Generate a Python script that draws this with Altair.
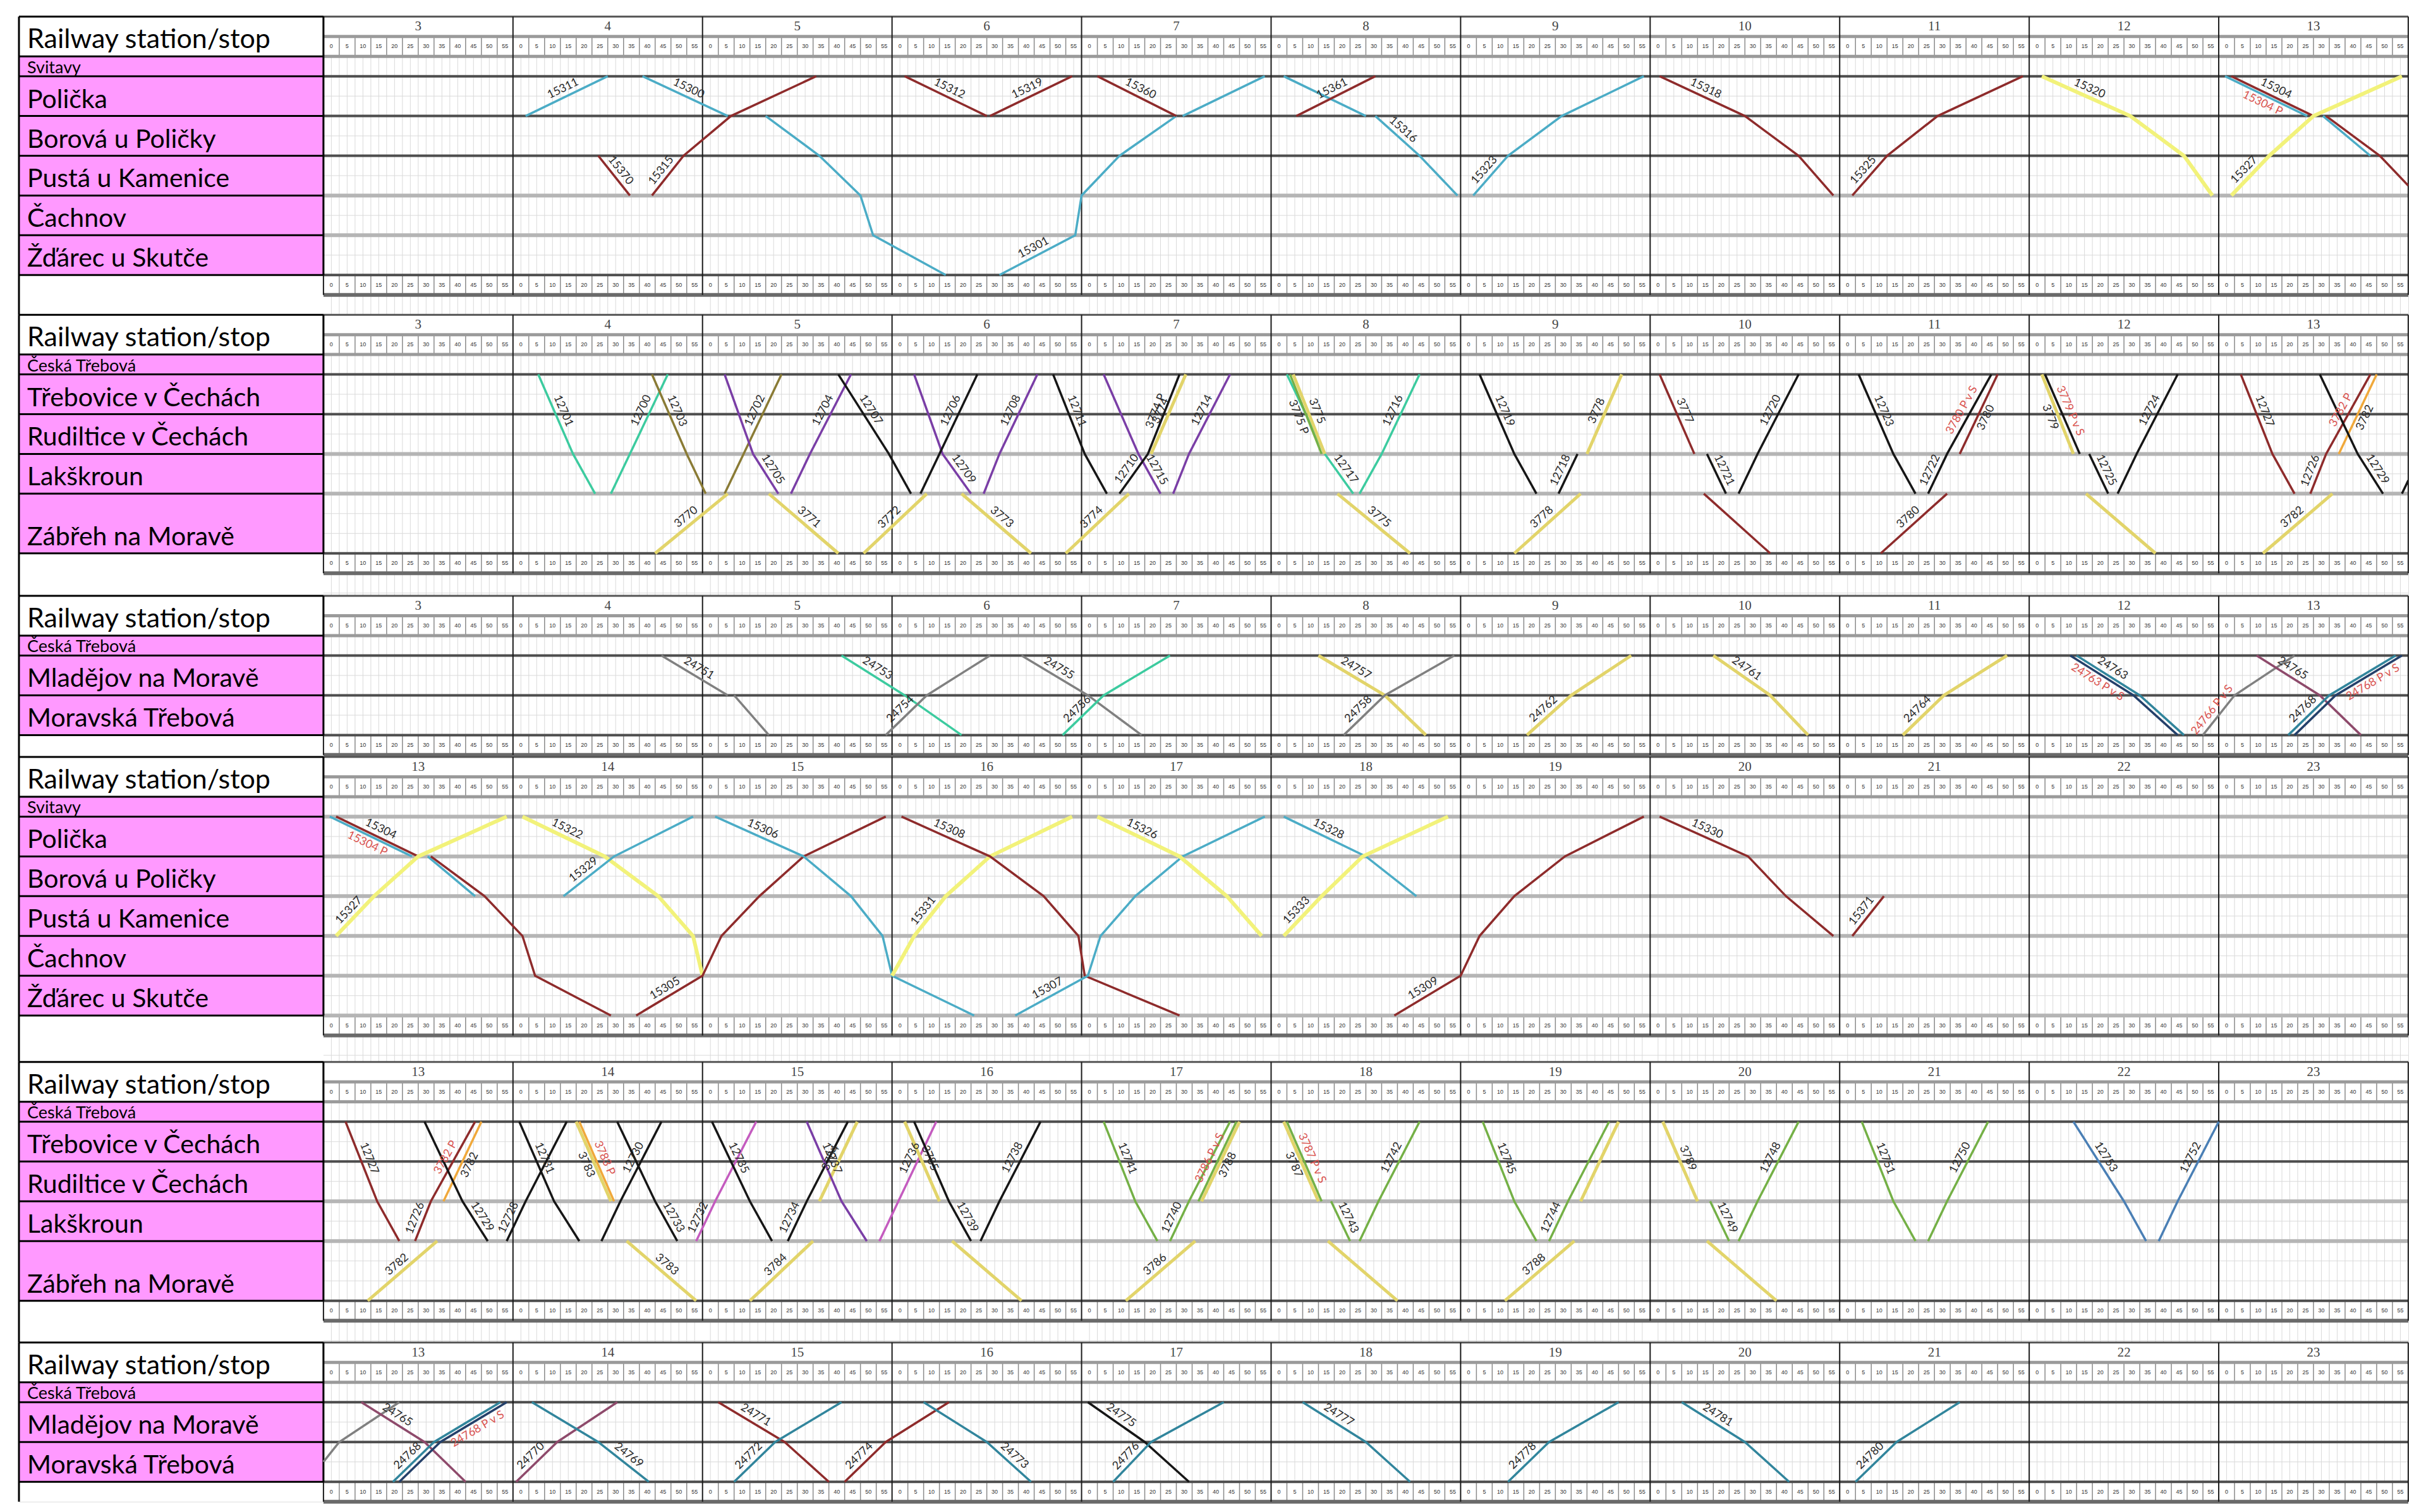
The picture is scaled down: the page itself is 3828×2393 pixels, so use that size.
import math
import altair as alt
import pandas as pd

# ---------------------------------------------------------------- layout constants
PXM = 5.0        # pixels per minute
PXU = 63.0       # pixels per station row
LABEL_W = 482    # width of the station-name column
HOUR_COUNT = 11

# ---------------------------------------------------------------- stations
LINE_A_NAMES = ["Svitavy", "Polička", "Borová u Poličky", "Pustá u Kamenice", "Čachnov", "Žďárec u Skutče"]
LINE_A_CODES = ["S", "P", "B", "U", "C", "Z"]
LINE_A_POS = [0, 1, 2, 3, 4, 5]

LINE_B_NAMES = ["Česká Třebová", "Třebovice v Čechách", "Rudiltice v Čechách", "Lakškroun", "Zábřeh na Moravě"]
LINE_B_CODES = ["CT", "T", "R", "L", "ZB"]
LINE_B_POS = [0, 1, 2, 3, 4.5]

LINE_C_NAMES = ["Česká Třebová", "Mladějov na Moravě", "Moravská Třebová"]
LINE_C_CODES = ["CT", "M", "MT"]
LINE_C_POS = [0, 1, 2]

PANEL_START_HOURS = [3, 3, 3, 13, 13, 13]

# ---------------------------------------------------------------- trains
# (number, colour, "station time, ... | next run ...", [(label, run, segment, red?, below?)])
TRAINS_A = [
    ("15311", "teal", "P 4:04, S 4:30", [("15311", 0, 0, 0, 0)]),
    ("15300", "teal", "S 4:41, P 5:08 | P 5:20, B 5:37, U 5:50, C 5:54, Z 6:17", [("15300", 0, 0, 0, 0)]),
    ("15370", "maroon", "B 4:27, U 4:37", [("15370", 0, 0, 0, 0)]),
    ("15315", "maroon", "U 4:44, B 4:54, P 5:09, S 5:36", [("15315", 0, 0, 0, 0)]),
    ("15312", "maroon", "S 6:04, P 6:30", [("15312", 0, 0, 0, 0)]),
    ("15319", "maroon", "P 6:31, S 6:57", [("15319", 0, 0, 0, 0)]),
    ("15301", "teal", "Z 6:34, C 6:58, U 7:00, B 7:12, P 7:30 | P 7:32, S 7:58", [("15301", 0, 0, 0, 0)]),
    ("15360", "maroon", "S 7:05, P 7:30", [("15360", 0, 0, 0, 0)]),
    ("15316", "teal", "S 8:04, P 8:30 | P 8:33, B 8:47, U 8:59", [("15316", 1, 0, 0, 0)]),
    ("15361", "maroon", "P 8:08, S 8:33", [("15361", 0, 0, 0, 0)]),
    ("15323", "teal", "U 9:04, B 9:15, P 9:32, S 9:58", [("15323", 0, 0, 0, 0)]),
    ("15318", "maroon", "S 10:03, P 10:30, B 10:47, U 10:58", [("15318", 0, 0, 0, 0)]),
    ("15325", "maroon", "U 11:04, B 11:15, P 11:31, S 11:58", [("15325", 0, 0, 0, 0)]),
    ("15320", "yellow", "S 12:04, P 12:32, B 12:49, U 12:58", [("15320", 0, 0, 0, 0)]),
    ("15304 P", "teal", "S 13:02, P 13:28 | P 13:33, B 13:48", [("15304 P", 0, 0, 1, 1)]),
    ("15304", "maroon", "S 13:04, P 13:30 | P 13:34, B 13:51, U 14:03, C 14:07, Z 14:31", [("15304", 0, 0, 0, 0)]),
    ("15327", "yellow", "U 13:04, B 13:16, P 13:30, S 13:58", [("15327", 0, 0, 0, 0)]),
    ("15322", "yellow", "S 14:03, P 14:29, B 14:46, U 14:57, C 15:00", [("15322", 0, 0, 0, 0)]),
    ("15329", "teal", "B 14:16, P 14:32, S 14:57", [("15329", 0, 0, 0, 0)]),
    ("15305", "maroon", "Z 14:39, C 15:00, U 15:06, B 15:18, P 15:32, S 15:58", [("15305", 0, 0, 0, 0)]),
    ("15306", "teal", "S 15:04, P 15:32, B 15:47, U 15:57, C 16:00, Z 16:26", [("15306", 0, 0, 0, 0)]),
    ("15331", "yellow", "C 16:00, U 16:07, B 16:17, P 16:31, S 16:57", [("15331", 0, 1, 0, 0)]),
    ("15308", "maroon", "S 16:03, P 16:31, B 16:48, U 16:59, C 17:01, Z 17:31", [("15308", 0, 0, 0, 0)]),
    ("15307", "teal", "Z 16:39, C 17:02, U 17:06, B 17:17, P 17:32, S 17:58", [("15307", 0, 0, 0, 0)]),
    ("15326", "yellow", "S 17:05, P 17:31, B 17:46, U 17:57", [("15326", 0, 0, 0, 0)]),
    ("15328", "teal", "S 18:04, P 18:30, B 18:46", [("15328", 0, 0, 0, 0)]),
    ("15333", "yellow", "U 18:04, B 18:16, P 18:29, S 18:56", [("15333", 0, 0, 0, 0)]),
    ("15309", "maroon", "Z 18:39, C 19:00, U 19:06, B 19:17, P 19:33, S 19:58", [("15309", 0, 0, 0, 0)]),
    ("15330", "maroon", "S 20:03, P 20:31, B 20:43, U 20:58", [("15330", 0, 0, 0, 0)]),
    ("15371", "maroon", "U 21:04, B 21:14", [("15371", 0, 0, 0, 0)]),
]

TRAINS_B = [
    ("12701", "mint", "CT 4:08, R 4:19, L 4:26", [("12701", 0, 0, 0, 0)]),
    ("12700", "mint", "L 4:31, R 4:37, CT 4:49", [("12700", 0, 1, 0, 0)]),
    ("12703", "olive", "CT 4:44, R 4:55, L 5:01", [("12703", 0, 0, 0, 0)]),
    ("12702", "olive", "L 5:07, R 5:13, CT 5:25", [("12702", 0, 1, 0, 0)]),
    ("3770", "gold", "ZB 4:45, L 5:08", [("3770", 0, 0, 0, 0)]),
    ("12705", "purple", "CT 5:07, R 5:16, L 5:24", [("12705", 0, 1, 0, 0)]),
    ("12704", "purple", "L 5:28, R 5:34, CT 5:47", [("12704", 0, 1, 0, 0)]),
    ("3771", "gold", "L 5:21, ZB 5:43", [("3771", 0, 0, 0, 0)]),
    ("12707", "black", "CT 5:43, R 5:59, L 6:06", [("12707", 0, 0, 0, 0)]),
    ("3772", "gold", "ZB 5:51, L 6:11", [("3772", 0, 0, 0, 0)]),
    ("12709", "purple", "CT 6:07, R 6:16, L 6:25", [("12709", 0, 1, 0, 0)]),
    ("12706", "black", "L 6:09, R 6:15, CT 6:27", [("12706", 0, 1, 0, 0)]),
    ("12708", "purple", "L 6:29, R 6:34, CT 6:46", [("12708", 0, 1, 0, 0)]),
    ("3773", "gold", "L 6:22, ZB 6:44", [("3773", 0, 0, 0, 0)]),
    ("12711", "black", "CT 6:51, R 7:01, L 7:08", [("12711", 0, 0, 0, 0)]),
    ("3774", "gold", "ZB 6:55, L 7:15 | R 7:22, CT 7:33", [("3774", 0, 0, 0, 0), ("3774", 1, 0, 0, 0)]),
    ("12715", "purple", "CT 7:07, R 7:18, L 7:25", [("12715", 0, 1, 0, 0)]),
    ("12710", "black", "L 7:12, R 7:21, CT 7:31", [("12710", 0, 0, 0, 0), ("3774 P", 0, 1, 0, 0)]),
    ("12714", "purple", "L 7:29, R 7:34, CT 7:47", [("12714", 0, 1, 0, 0)]),
    ("12717", "mint", "CT 8:05, R 8:17, L 8:26", [("12717", 0, 1, 0, 0)]),
    ("3775 P", "green", "CT 8:06, R 8:16", [("3775 P", 0, 0, 0, 1)]),
    ("3775", "gold", "CT 8:07, R 8:17 | L 8:21, ZB 8:44", [("3775", 0, 0, 0, 0), ("3775", 1, 0, 0, 0)]),
    ("12716", "mint", "L 8:28, R 8:35, CT 8:47", [("12716", 0, 1, 0, 0)]),
    ("12719", "black", "CT 9:06, R 9:17, L 9:24", [("12719", 0, 0, 0, 0)]),
    ("12718", "black", "L 9:31, R 9:37", [("12718", 0, 0, 0, 0)]),
    ("3778", "gold", "ZB 9:17, L 9:38 | R 9:40, CT 9:51", [("3778", 0, 0, 0, 0), ("3778", 1, 0, 0, 0)]),
    ("3777", "maroon", "CT 10:03, R 10:14 | L 10:17, ZB 10:38", [("3777", 0, 0, 0, 0)]),
    ("12721", "black", "R 10:18, L 10:24", [("12721", 0, 0, 0, 0)]),
    ("12720", "black", "L 10:28, R 10:34, CT 10:47", [("12720", 0, 1, 0, 0)]),
    ("12723", "black", "CT 11:06, R 11:17, L 11:24", [("12723", 0, 0, 0, 0)]),
    ("12722", "black", "L 11:28, R 11:34, CT 11:48", [("12722", 0, 0, 0, 0), ("3780 P v S", 0, 1, 1, 0)]),
    ("3780", "maroon", "ZB 11:13, L 11:34 | R 11:38, CT 11:50", [("3780", 0, 0, 0, 0), ("3780", 1, 0, 0, 1)]),
    ("3779", "gold", "CT 12:04, R 12:14 | L 12:18, ZB 12:40", [("3779", 0, 0, 0, 1)]),
    ("3779 P v S", "black", "CT 12:05, R 12:16", [("3779 P v S", 0, 0, 1, 0)]),
    ("12725", "black", "R 12:19, L 12:25", [("12725", 0, 0, 0, 0)]),
    ("12724", "black", "L 12:28, R 12:34, CT 12:47", [("12724", 0, 1, 0, 0)]),
    ("12727", "maroon", "CT 13:07, R 13:17, L 13:24", [("12727", 0, 0, 0, 0)]),
    ("12726", "maroon", "L 13:29, R 13:34, CT 13:48", [("12726", 0, 0, 0, 0), ("3782 P", 0, 1, 1, 0)]),
    ("3782", "gold", "ZB 13:14, L 13:36", [("3782", 0, 0, 0, 0)]),
    ("3782", "orange", "R 13:38, CT 13:50", [("3782", 0, 0, 0, 1)]),
    ("12729", "black", "CT 13:32, R 13:44, L 13:52", [("12729", 0, 1, 0, 0)]),
    ("12728", "black", "L 13:58, R 14:04, CT 14:17", [("12728", 0, 0, 0, 0)]),
    ("12731", "black", "CT 14:02, R 14:13, L 14:21", [("12731", 0, 0, 0, 0)]),
    ("3783", "gold", "CT 14:20, R 14:31 | L 14:36, ZB 14:58", [("3783", 0, 0, 0, 1), ("3783", 1, 0, 0, 0)]),
    ("3783 P", "orange", "CT 14:21, R 14:32", [("3783 P", 0, 0, 1, 0)]),
    ("12730", "black", "L 14:28, R 14:34, CT 14:47", [("12730", 0, 1, 0, 0)]),
    ("12733", "black", "CT 14:33, R 14:45, L 14:52", [("12733", 0, 1, 0, 0)]),
    ("12732", "pink", "L 14:58, R 15:04, CT 15:17", [("12732", 0, 0, 0, 0)]),
    ("12735", "black", "CT 15:03, R 15:15, L 15:22", [("12735", 0, 0, 0, 0)]),
    ("3784", "gold", "ZB 15:15, L 15:35 | R 15:37, CT 15:49", [("3784", 0, 0, 0, 0), ("3784", 1, 0, 0, 0)]),
    ("12734", "black", "L 15:27, R 15:33, CT 15:46", [("12734", 0, 0, 0, 0)]),
    ("12737", "purple", "CT 15:33, R 15:44, L 15:52", [("12737", 0, 0, 0, 0)]),
    ("12736", "pink", "L 15:56, R 16:02, CT 16:14", [("12736", 0, 1, 0, 0)]),
    ("3785", "gold", "CT 16:04, R 16:15 | L 16:19, ZB 16:41", [("3785", 0, 0, 0, 0)]),
    ("12739", "black", "CT 16:07, R 16:18, L 16:25", [("12739", 0, 1, 0, 0)]),
    ("12738", "black", "L 16:28, R 16:34, CT 16:47", [("12738", 0, 1, 0, 0)]),
    ("12741", "green", "CT 17:07, R 17:17, L 17:24", [("12741", 0, 0, 0, 0)]),
    ("12740", "green", "L 17:28, R 17:34, CT 17:47", [("12740", 0, 0, 0, 0)]),
    ("3786", "gold", "ZB 17:14, L 17:36 | R 17:38, CT 17:50", [("3786", 0, 0, 0, 0), ("3788", 1, 0, 0, 1)]),
    ("3786 P v S", "green", "R 17:37, CT 17:49", [("3786 P v S", 0, 0, 1, 0)]),
    ("3787", "gold", "CT 18:04, R 18:15 | L 18:18, ZB 18:40", [("3787", 0, 0, 0, 1)]),
    ("3787 P v S", "green", "CT 18:05, R 18:16", [("3787 P v S", 0, 0, 1, 0)]),
    ("12743", "green", "R 18:19, L 18:25", [("12743", 0, 0, 0, 0)]),
    ("12742", "green", "L 18:28, R 18:34, CT 18:47", [("12742", 0, 1, 0, 0)]),
    ("12745", "green", "CT 19:07, R 19:17, L 19:24", [("12745", 0, 0, 0, 0)]),
    ("12744", "green", "L 19:28, R 19:34, CT 19:47", [("12744", 0, 0, 0, 0)]),
    ("3788", "gold", "ZB 19:14, L 19:36 | R 19:38, CT 19:50", [("3788", 0, 0, 0, 0)]),
    ("3789", "gold", "CT 20:04, R 20:15 | L 20:18, ZB 20:40", [("3789", 0, 0, 0, 0)]),
    ("12749", "green", "R 20:19, L 20:25", [("12749", 0, 0, 0, 0)]),
    ("12748", "green", "L 20:28, R 20:34, CT 20:47", [("12748", 0, 1, 0, 0)]),
    ("12751", "green", "CT 21:07, R 21:17, L 21:24", [("12751", 0, 0, 0, 0)]),
    ("12750", "green", "L 21:28, R 21:34, CT 21:47", [("12750", 0, 1, 0, 0)]),
    ("12753", "blue", "CT 22:14, R 22:30, L 22:37", [("12753", 0, 0, 0, 0)]),
    ("12752", "blue", "L 22:41, R 22:47, CT 23:00", [("12752", 0, 1, 0, 0)]),
]

TRAINS_C = [
    ("24751", "gray", "CT 4:47, M 5:08 | M 5:10, MT 5:21", [("24751", 0, 0, 0, 0)]),
    ("24753", "mint", "CT 5:44, M 6:04, MT 6:22", [("24753", 0, 0, 0, 0)]),
    ("24754", "gray", "MT 5:58, M 6:11, CT 6:31", [("24754", 0, 0, 0, 0)]),
    ("24755", "gray", "CT 6:41, M 7:02, MT 7:19", [("24755", 0, 0, 0, 0)]),
    ("24756", "mint", "MT 6:54, M 7:07, CT 7:28", [("24756", 0, 0, 0, 0)]),
    ("24757", "gold", "CT 8:15, M 8:36, MT 8:49", [("24757", 0, 0, 0, 0)]),
    ("24758", "gray", "MT 8:23, M 8:36, CT 8:58", [("24758", 0, 0, 0, 0)]),
    ("24762", "gold", "MT 9:21, M 9:35, CT 9:54", [("24762", 0, 0, 0, 0)]),
    ("24761", "gold", "CT 10:20, M 10:38, MT 10:50", [("24761", 0, 0, 0, 0)]),
    ("24764", "gold", "MT 11:20, M 11:33, CT 11:53", [("24764", 0, 0, 0, 0)]),
    ("24763", "steel", "CT 12:15, M 12:35, MT 12:49", [("24763", 0, 0, 0, 0)]),
    ("24763 P v S", "navy", "CT 12:13, M 12:33, MT 12:47", [("24763 P v S", 0, 0, 1, 1)]),
    ("24766 P v S", "gray", "MT 12:55, M 13:05, CT 13:24", [("24766 P v S", 0, 0, 1, 0)]),
    ("24765", "mauve", "CT 13:12, M 13:32, MT 13:45", [("24765", 0, 0, 0, 0)]),
    ("24768", "steel", "MT 13:22, M 13:35, CT 13:56", [("24768", 0, 0, 0, 0)]),
    ("24768 P v S", "navy", "MT 13:24, M 13:37, CT 13:58", [("24768 P v S", 0, 1, 1, 1)]),
    ("24770", "mauve", "MT 14:01, M 14:14, CT 14:33", [("24770", 0, 0, 0, 0)]),
    ("24769", "steel", "CT 14:06, M 14:27, MT 14:43", [("24769", 0, 1, 0, 0)]),
    ("24771", "maroon", "CT 15:05, M 15:26, MT 15:40", [("24771", 0, 0, 0, 0)]),
    ("24772", "steel", "MT 15:10, M 15:23, CT 15:44", [("24772", 0, 0, 0, 0)]),
    ("24774", "maroon", "MT 15:45, M 15:58, CT 16:18", [("24774", 0, 0, 0, 0)]),
    ("24773", "steel", "CT 16:10, M 16:30, MT 16:44", [("24773", 0, 1, 0, 0)]),
    ("24775", "black", "CT 17:02, M 17:20, MT 17:34", [("24775", 0, 0, 0, 0)]),
    ("24776", "steel", "MT 17:10, M 17:22, CT 17:45", [("24776", 0, 0, 0, 0)]),
    ("24777", "steel", "CT 18:10, M 18:30, MT 18:44", [("24777", 0, 0, 0, 0)]),
    ("24778", "steel", "MT 19:15, M 19:28, CT 19:50", [("24778", 0, 0, 0, 0)]),
    ("24781", "steel", "CT 20:10, M 20:30, MT 20:44", [("24781", 0, 0, 0, 0)]),
    ("24780", "steel", "MT 21:05, M 21:18, CT 21:38", [("24780", 0, 0, 0, 0)]),
]

# ---------------------------------------------------------------- styles
COLOURS = {
    "teal": "#4BACC6", "maroon": "#8E2B2B", "yellow": "#F2F27A", "mint": "#3CCB9F",
    "olive": "#8A7B35", "purple": "#7A3EA6", "black": "#161616", "gold": "#E2D46A",
    "green": "#74B046", "gray": "#808080", "steel": "#31859C", "navy": "#24406A",
    "mauve": "#8E4A6B", "orange": "#F0A83A", "pink": "#C45BBF", "blue": "#4A7FB5",
}
WIDTHS = {"yellow": 6, "gold": 5}
DARK_LINE, LIGHT_LINE = "#4d4d4d", "#b5b5b5"
FONT = "Lato"


def to_min(hm):
    h, m = hm.split(":")
    return int(h) * 60 + int(m)


def parse(stops, codes, pos):
    runs = []
    for run in stops.split("|"):
        pts = []
        for item in run.split(","):
            code, hm = item.split()
            pts.append((to_min(hm), pos[codes.index(code)]))
        runs.append(pts)
    return runs


def clip_run(pts, lo, hi):
    out = []
    for i, (t, y) in enumerate(pts):
        if i > 0:
            tp, yp = pts[i - 1]
            for edge in (lo, hi):
                if (tp - edge) * (t - edge) < 0:
                    f = (edge - tp) / (t - tp)
                    out.append((edge, yp + f * (y - yp)))
        if lo <= t <= hi:
            out.append((t, y))
    return out


def build_panel(names, codes, pos, trains, h0, y_end, light_codes):
    t0 = h0 * 60
    t1 = t0 + HOUR_COUNT * 60
    last = pos[-1]
    W = int(round(LABEL_W + HOUR_COUNT * 60 * PXM))
    H = int(round((y_end + 1.5) * PXU))
    xs = alt.Scale(domain=[t0 - LABEL_W / PXM, t1], nice=False, zero=False)
    ys = alt.Scale(domain=[-1.5, y_end], nice=False, zero=False, reverse=True)

    def X(f):
        return alt.X(f, type="quantitative", scale=xs, axis=None)

    def Y(f):
        return alt.Y(f, type="quantitative", scale=ys, axis=None)

    layers = []

    # label column cells
    cells = [{"y": -1.5, "y2": -0.5, "fill": "white"}]
    prev = -0.5
    for p in pos:
        cells.append({"y": prev, "y2": p, "fill": "#FF99FF"})
        prev = p
    layers.append(alt.Chart(pd.DataFrame(cells)).mark_rect().encode(
        x=alt.value(0), x2=alt.value(LABEL_W), y=Y("y"), y2="y2",
        color=alt.Color("fill:N", scale=None)))

    # light spreadsheet grid
    vg = []
    k = 1
    while t0 + 2.5 * k < t1:
        t = t0 + 2.5 * k
        if (2.5 * k) % 60:
            vg.append({"t": t, "y": -0.5, "y2": last})
            vg.append({"t": t, "y": last + 0.5, "y2": y_end})
        k += 1
    layers.append(alt.Chart(pd.DataFrame(vg)).mark_rule(color="#dadada", strokeWidth=1).encode(
        x=X("t"), y=Y("y"), y2="y2"))
    hg = []
    v = -0.5
    while v < y_end:
        if v not in pos and not (last <= v <= last + 0.5) and v > -0.5:
            hg.append({"y": v, "a": t0, "b": t1})
        v += 0.5
    layers.append(alt.Chart(pd.DataFrame(hg)).mark_rule(color="#dadada", strokeWidth=1).encode(
        x=X("a"), x2="b", y=Y("y")))

    # minute rows
    mcell, mtext = [], []
    for h in range(HOUR_COUNT):
        for m in range(0, 60, 5):
            t = t0 + h * 60 + m
            if m:
                mcell.append({"t": t, "y": -1.0, "y2": -0.5})
                mcell.append({"t": t, "y": last, "y2": last + 0.5})
            mtext.append({"t": t + 2.5, "y": -0.75, "m": str(m)})
            mtext.append({"t": t + 2.5, "y": last + 0.25, "m": str(m)})
    layers.append(alt.Chart(pd.DataFrame(mcell)).mark_rule(color="#8a8a8a", strokeWidth=1.5).encode(
        x=X("t"), y=Y("y"), y2="y2"))
    layers.append(alt.Chart(pd.DataFrame(mtext)).mark_text(
        fontSize=9, font="Liberation Sans", color="#333", baseline="middle").encode(
        x=X("t"), y=Y("y"), text="m:N"))

    # horizontal structural lines in the timeline
    hl = [
        {"y": -1.5, "c": "#555555", "w": 3},
        {"y": -1.0, "c": "#9a9a9a", "w": 5},
        {"y": -0.5, "c": "#9a9a9a", "w": 5},
        {"y": last + 0.5, "c": "#6a6a6a", "w": 6},
    ]
    for c, p in zip(codes, pos):
        light = c in light_codes
        hl.append({"y": p, "c": LIGHT_LINE if light else DARK_LINE, "w": 6 if light else 4})
    hdf = pd.DataFrame(hl)
    hdf["a"], hdf["b"] = t0, t1
    layers.append(alt.Chart(hdf).mark_rule().encode(
        x=X("a"), x2="b", y=Y("y"),
        color=alt.Color("c:N", scale=None), strokeWidth=alt.StrokeWidth("w:Q", scale=None)))

    # hour separators
    hs = [{"t": t0 + 60 * k, "y": -1.5, "y2": last + 0.5} for k in range(HOUR_COUNT + 1)]
    layers.append(alt.Chart(pd.DataFrame(hs)).mark_rule(color="#1a1a1a", strokeWidth=2).encode(
        x=X("t"), y=Y("y"), y2="y2"))

    # label column borders
    lb = [{"y": v} for v in [-1.5, -0.5] + list(pos)]
    layers.append(alt.Chart(pd.DataFrame(lb)).mark_rule(color="black", strokeWidth=3).encode(
        x=alt.value(0), x2=alt.value(LABEL_W), y=Y("y")))
    layers.append(alt.Chart(pd.DataFrame([{"y": -1.5, "y2": y_end}])).mark_rule(
        color="black", strokeWidth=3).encode(x=alt.value(0), y=Y("y"), y2="y2"))
    layers.append(alt.Chart(pd.DataFrame([{"y": -1.5, "y2": last}])).mark_rule(
        color="black", strokeWidth=3).encode(x=alt.value(LABEL_W), y=Y("y"), y2="y2"))

    # hour numbers
    hn = [{"t": t0 + 60 * k + 30, "y": -1.25, "h": str(h0 + k)} for k in range(HOUR_COUNT)]
    layers.append(alt.Chart(pd.DataFrame(hn)).mark_text(
        fontSize=21, font="Liberation Serif", color="#444", baseline="middle").encode(
        x=X("t"), y=Y("y"), text="h:N"))

    # trains
    rows, labs = [], []
    for i, (num, col, stops, labels) in enumerate(trains):
        runs = parse(stops, codes, pos)
        for r, run in enumerate(runs):
            for o, (t, y) in enumerate(clip_run(run, t0, t1)):
                rows.append({"key": f"{i}-{r}", "o": o, "t": t, "y": y,
                             "c": COLOURS[col], "w": WIDTHS.get(col, 3.5)})
        for text, r, s, red, below in labels:
            (ta, ya), (tb, yb) = runs[r][s], runs[r][s + 1]
            tm, ym = (ta + tb) / 2, (ya + yb) / 2
            if not (t0 + 2 <= tm <= t1 - 2):
                continue
            if tb < ta:
                ta, ya, tb, yb = tb, yb, ta, ya
            ang = math.degrees(math.atan2((yb - ya) * PXU, (tb - ta) * PXM)) % 360
            labs.append({"t": tm, "y": ym, "ang": ang, "text": text,
                         "col": "#D9534F" if red else "#2a2a2a", "below": below})
    tdf = pd.DataFrame(rows)
    layers.append(alt.Chart(tdf).mark_line(clip=True, strokeCap="butt").encode(
        x=X("t"), y=Y("y"), detail="key:N", order="o:Q",
        color=alt.Color("c:N", scale=None), strokeWidth=alt.StrokeWidth("w:Q", scale=None)))
    ldf = pd.DataFrame(labs)
    for below in (0, 1):
        sub = ldf[ldf["below"] == below]
        if len(sub):
            layers.append(alt.Chart(sub).mark_text(
                fontSize=18, font=FONT, baseline="top" if below else "bottom",
                dy=4 if below else -4, clip=True).encode(
                x=X("t"), y=Y("y"), text="text:N", angle=alt.Angle("ang:Q", scale=None),
                color=alt.Color("col:N", scale=None)))

    # label column text
    layers.append(alt.Chart(pd.DataFrame([{"y": -0.5, "n": "Railway station/stop"}])).mark_text(
        align="left", baseline="alphabetic", fontSize=43, font=FONT, color="black", dx=13, dy=-13).encode(
        x=alt.value(0), y=Y("y"), text="n:N"))
    layers.append(alt.Chart(pd.DataFrame([{"y": pos[0], "n": names[0]}])).mark_text(
        align="left", baseline="alphabetic", fontSize=27, font=FONT, color="black", dx=13, dy=-5).encode(
        x=alt.value(0), y=Y("y"), text="n:N"))
    layers.append(alt.Chart(pd.DataFrame({"y": pos[1:], "n": names[1:]})).mark_text(
        align="left", baseline="alphabetic", fontSize=41, font=FONT, color="black", dx=13, dy=-13).encode(
        x=alt.value(0), y=Y("y"), text="n:N"))

    return alt.layer(*layers).properties(width=W, height=H)


panels = [
    build_panel(LINE_A_NAMES, LINE_A_CODES, LINE_A_POS, TRAINS_A, PANEL_START_HOURS[0], 6.0, {"C", "U"}),
    build_panel(LINE_B_NAMES, LINE_B_CODES, LINE_B_POS, TRAINS_B, PANEL_START_HOURS[1], 5.57, {"R", "L"}),
    build_panel(LINE_C_NAMES, LINE_C_CODES, LINE_C_POS, TRAINS_C, PANEL_START_HOURS[2], 2.55, set()),
    build_panel(LINE_A_NAMES, LINE_A_CODES, LINE_A_POS, TRAINS_A, PANEL_START_HOURS[3], 6.17, set(LINE_A_CODES)),
    build_panel(LINE_B_NAMES, LINE_B_CODES, LINE_B_POS, TRAINS_B, PANEL_START_HOURS[4], 5.55, {"R", "L"}),
    build_panel(LINE_C_NAMES, LINE_C_CODES, LINE_C_POS, TRAINS_C, PANEL_START_HOURS[5], 2.5, set()),
]

chart = alt.vconcat(*panels, spacing=0, bounds="flush").properties(
    padding={"left": 20, "top": 16, "right": 5, "bottom": 5}
).configure_view(strokeWidth=0).configure(background="white")

chart.save("out.html", embed_options={"renderer": "svg", "actions": False})
